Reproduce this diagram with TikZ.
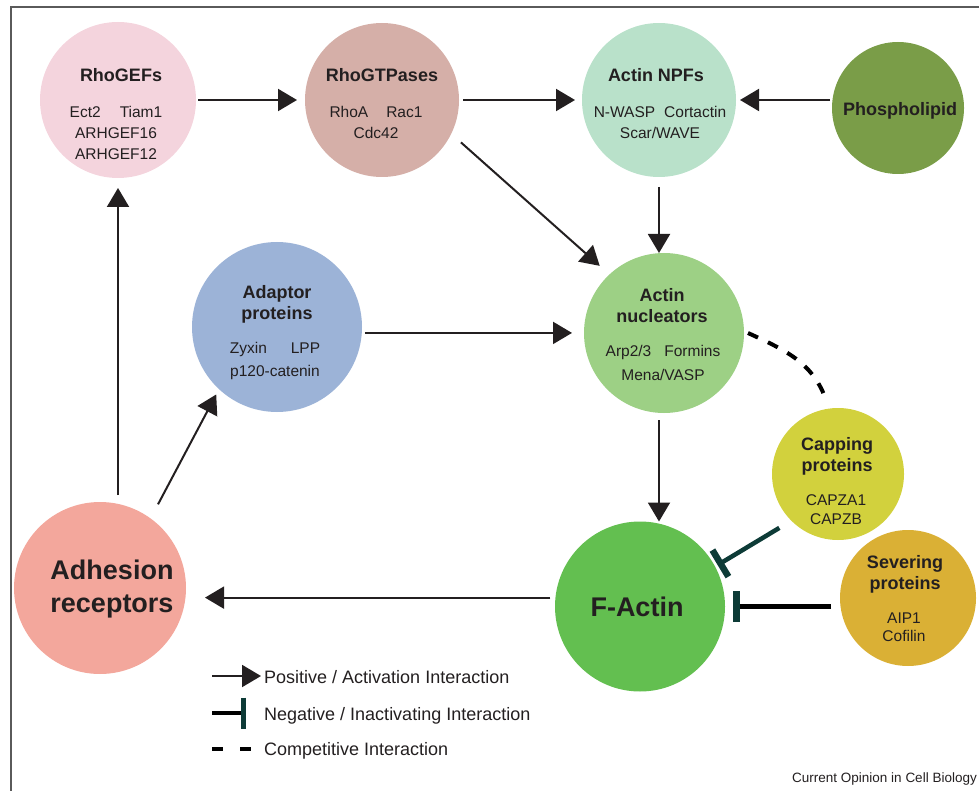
\documentclass[tikz,border=0pt]{standalone}
\usepackage{fontspec}
\setmainfont{Liberation Sans}
\usetikzlibrary{arrows.meta}
\definecolor{gefsC}{HTML}{F4D4DD}
\definecolor{gtpC}{HTML}{D5AFA8}
\definecolor{npfC}{HTML}{B9E1CA}
\definecolor{phosC}{HTML}{7A9D48}
\definecolor{adpC}{HTML}{9CB3D7}
\definecolor{nucC}{HTML}{9DD085}
\definecolor{capC}{HTML}{D2D13D}
\definecolor{sevC}{HTML}{DAB035}
\definecolor{faC}{HTML}{63BF50}
\definecolor{adhC}{HTML}{F3A79C}
\definecolor{txt}{HTML}{231F20}
\definecolor{inhc}{HTML}{0D3B37}
\definecolor{framec}{HTML}{5A5A5A}
\tikzset{
  circ/.style={circle, inner sep=0pt, outer sep=0pt},
  ttl/.style={align=center, inner sep=0pt, outer sep=0pt, anchor=north, text=txt, font=\bfseries\fontsize{18}{21.5}\selectfont},
  bigttl/.style={align=center, inner sep=0pt, outer sep=0pt, text=txt, font=\bfseries\fontsize{27}{33}\selectfont},
  sub/.style={align=center, inner sep=0pt, outer sep=0pt, anchor=north, text=txt, font=\fontsize{15.5}{#1}\selectfont},
  legtext/.style={inner sep=0pt, anchor=base west, text=txt, font=\fontsize{18}{21}\selectfont},
  arr/.style={line width=2pt, draw=txt, -{Triangle[length=19pt,width=22pt]}},
  inh/.style={line width=4.5pt, -{Bar[width=31pt,line width=6.5pt,color=inhc]}},
  compet/.style={line width=4pt, draw=black, dash pattern=on 11pt off 11pt},
}
\begin{document}
\begin{tikzpicture}[x=1pt,y=-1pt]
\useasboundingbox (0,0) rectangle (979,791);
\draw[framec, line width=1.8pt] (11,791) -- (11,7) -- (981,7);

% circles
\node[circ, fill=gefsC, minimum size=156pt] (gefs) at (118,100) {};
\node[circ, fill=gtpC, minimum size=154pt] (gtp) at (382,100) {};
\node[circ, fill=npfC, minimum size=154pt] (npf) at (659,100) {};
\node[circ, fill=phosC, minimum size=132pt] (phos) at (898,108) {};
\node[circ, fill=adpC, minimum size=170pt] (adp) at (277,327) {};
\node[circ, fill=nucC, minimum size=160pt] (nuc) at (664,333) {};
\node[circ, fill=capC, minimum size=132pt] (cap) at (838,474) {};
\node[circ, fill=sevC, minimum size=136pt] (sev) at (908,598) {};
\node[circ, fill=faC, minimum size=170pt] (fa) at (640,606.5) {};
\node[circ, fill=adhC, minimum size=172pt] (adh) at (100,588) {};

% texts
\node[ttl] (gefsT) at (121,68) {RhoGEFs};
\node[sub=21] (gefsS) at (116,106) {Ect2\hspace{19pt}Tiam1\\ARHGEF16\\ARHGEF12};
\node[ttl] (gtpT) at (382,68) {RhoGTPases};
\node[sub=21] (gtpS) at (376,106) {RhoA\hspace{18pt}Rac1\\Cdc42};
\node[ttl] (npfT) at (656,68) {Actin NPFs};
\node[sub=21] (npfS) at (660,106) {N-WASP\hspace{9pt}Cortactin\\Scar/WAVE};
\node[ttl] (phosT) at (900,102) {Phospholipid};
\node[ttl] (adpT) at (277,285) {Adaptor\\proteins};
\node[sub=22.7] (adpS) at (275,342.5) {Zyxin\hspace{24pt}LPP\\p120-catenin};
\node[ttl] (nucT) at (662,288) {Actin\\nucleators};
\node[sub=24] (nucS) at (663,345) {Arp2/3\hspace{13pt}Formins\\Mena/VASP};
\node[ttl] (capT) at (837,437) {Capping\\proteins};
\node[sub=19] (capS) at (836,495) {CAPZA1\\CAPZB};
\node[ttl] (sevT) at (905,555) {Severing\\proteins};
\node[sub=18] (sevS) at (904,613) {AIP1\\Cofilin};
\node[bigttl, anchor=center] (faT) at (637,606.5) {F-Actin};
\node[bigttl, anchor=north] (adhT) at (112,560) {Adhesion\\receptors};

% activation connectors
\draw[arr, shorten <=2pt, shorten >=8pt] (gefs) -- (gtp);
\draw[arr, shorten <=4pt, shorten >=7pt] (gtp) -- (npf);
\draw[arr, shorten <=2pt, shorten >=4pt] (phos.west |- npf.east) -- (npf.east);
\draw[arr, shorten <=13pt, shorten >=13pt] (gtp.-26) -- (nuc.133);
\draw[arr, shorten <=10pt] (npf.south) -- (npf.south |- nuc.north);
\draw[arr, shorten <=3pt, shorten >=12pt] (adp.-4) -- (adp.-4 -| nuc.west);
\draw[arr, shorten <=7pt] (npf.south |- nuc.south) -- (npf.south |- fa.north);
\draw[arr, shorten <=7pt, shorten >=10pt] (gefs.south |- adh.north) -- (gefs.south);
\draw[arr, shorten <=16pt, shorten >=6pt] (adh.54) -- (adp.227);
\draw[arr, shorten <=5pt, shorten >=19pt] (fa.174) -- (fa.174 -| adh.east);

% inhibition connectors
\draw[inh, draw=inhc, shorten <=14pt, shorten >=3pt] (cap.225) -- (fa.28);
\draw[inh, draw=black, shorten <=9pt, shorten >=8pt] (sev.west |- fa.center) -- (fa.east);

% competitive
\draw[compet] ([shift={(4,0)}]nuc.0) .. controls (785,350) and (812,362) .. ([shift={(-2,-10)}]cap.99);

% legend
\coordinate (la1) at (212,676);
\coordinate (la2) at (261,676);
\draw[arr] (la1) -- (la2);
\coordinate (lb1) at (212,713);
\coordinate (lb2) at (246,713);
\draw[line width=4pt, draw=black, -{Bar[width=31pt,line width=5.5pt,color=inhc]}] (lb1) -- (lb2);
\coordinate (lc1) at (212,749);
\coordinate (lc2) at (256,749);
\draw[compet, dash pattern=on 11pt off 17pt] (lc1) -- (lc2);
\node[legtext] (legA) at (264,683) {Positive / Activation Interaction};
\node[legtext] (legB) at (264,720) {Negative / Inactivating Interaction};
\node[legtext] (legC) at (264,755) {Competitive Interaction};

\node[inner sep=0pt, anchor=base east, text=txt, font=\fontsize{13.5}{16}\selectfont] (credit) at (977,782) {Current Opinion in Cell Biology};
\end{tikzpicture}
\end{document}
